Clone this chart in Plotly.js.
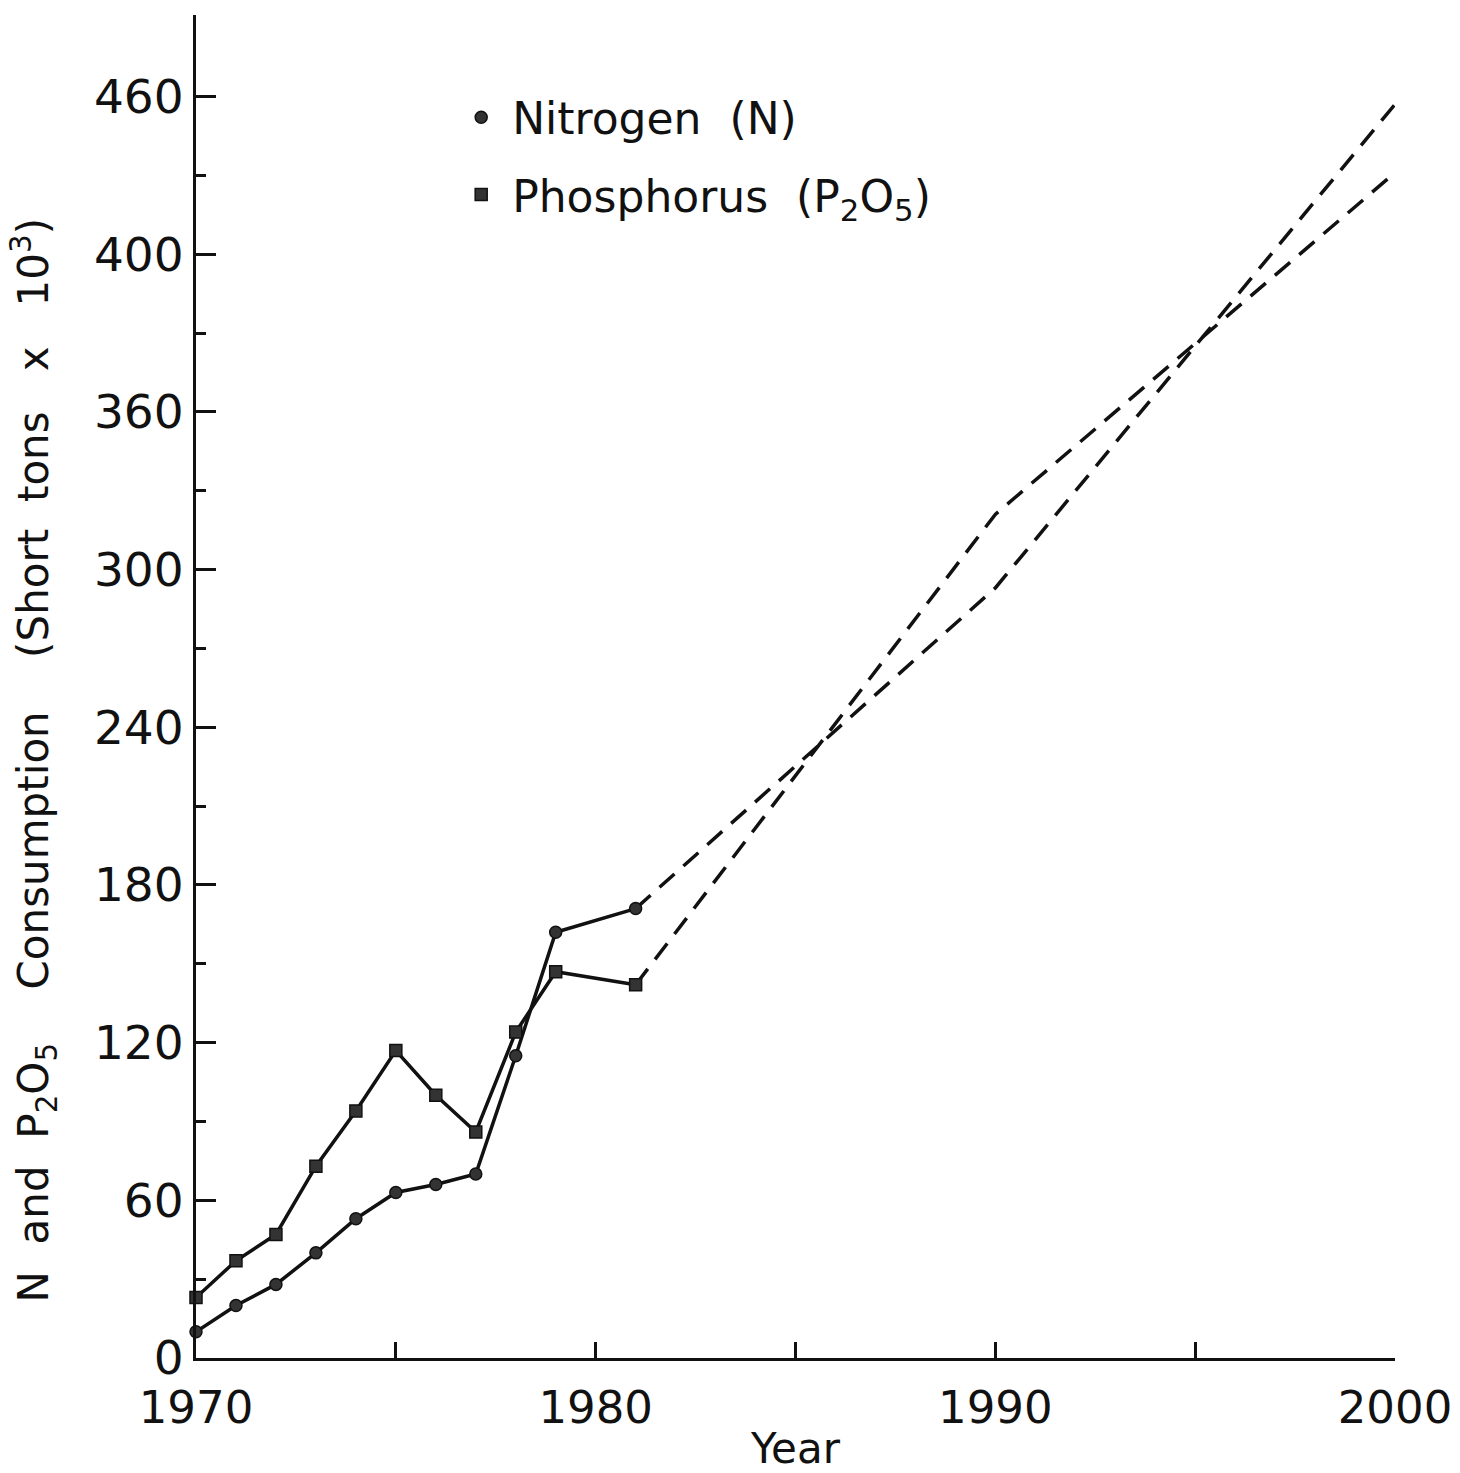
<!DOCTYPE html>
<html>
<head>
<meta charset="utf-8">
<script src="https://cdn.plot.ly/plotly-3.0.1.min.js"></script>
<style>
  html, body { margin: 0; padding: 0; background: #ffffff; }
  #chart { width: 1460px; height: 1473px; }
</style>
</head>
<body>
<div id="chart"></div>
<script>
// ---- Data (y in evenly spaced axis units; labels as printed) ----
const years = [1970, 1971, 1972, 1973, 1974, 1975, 1976, 1977, 1978, 1979, 1981];
const nitrogen = [10, 20, 28, 40, 53, 63, 66, 70, 115, 162, 171];
const phosphorus = [23, 37, 47, 73, 94, 117, 100, 86, 124, 147, 142];

const projYears = [1990, 2000];
const nitrogenProj = [293, 477];
const phosphorusProj = [321, 451];

const yTickVals = [0, 60, 120, 180, 240, 300, 360, 420, 480];
const yTickText = ['0', '60', '120', '180', '240', '300', '360', '400', '460'];
const yMinorVals = [30, 90, 150, 210, 270, 330, 390, 450];
const xTickVals = [1970, 1975, 1980, 1985, 1990, 1995, 2000];
const xTickText = ['1970', '', '1980', '', '1990', '', '2000'];

const seriesNames = ['Nitrogen\u00a0\u00a0(N)', 'Phosphorus\u00a0\u00a0(P<sub>2</sub>O<sub>5</sub>)'];

// ---- Build traces ----
const INK = '#111111';
const FONT = 'DejaVu Sans, Liberation Sans, sans-serif';
const lastYear = years[years.length - 1];

function solidLine(y) {
  return { x: years, y: y, mode: 'lines', type: 'scatter', showlegend: false,
           line: { color: INK, width: 3.5 }, cliponaxis: false, hoverinfo: 'skip' };
}
function dashedLine(y, proj) {
  return { x: [lastYear].concat(projYears), y: [y[y.length - 1]].concat(proj),
           mode: 'lines', type: 'scatter', showlegend: false,
           line: { color: INK, width: 3.5, dash: '20px,12px' }, cliponaxis: false, hoverinfo: 'skip' };
}
function markers(y, name, symbol, group) {
  return { x: years, y: y, mode: 'markers', type: 'scatter', name: name, legendgroup: group,
           marker: { symbol: symbol, size: 12, color: '#333333', line: { color: INK, width: 1.5 } },
           cliponaxis: false };
}

const data = [
  solidLine(nitrogen), solidLine(phosphorus),
  dashedLine(nitrogen, nitrogenProj), dashedLine(phosphorus, phosphorusProj),
  markers(nitrogen, seriesNames[0], 'circle', 'n'),
  markers(phosphorus, seriesNames[1], 'square', 'p')
];

const layout = {
  width: 1460, height: 1473,
  paper_bgcolor: '#ffffff', plot_bgcolor: '#ffffff',
  margin: { l: 196, r: 65, t: 15, b: 115 },
  font: { family: FONT, color: INK, size: 44 },
  showlegend: true,
  legend: {
    x: 0.212, y: 0.95, xanchor: 'left', yanchor: 'top',
    bgcolor: 'rgba(0,0,0,0)', borderwidth: 0,
    font: { family: FONT, size: 44, color: INK },
    itemwidth: 52,
    tracegroupgap: 17, traceorder: 'grouped'
  },
  xaxis: {
    range: [1970, 2000], tickmode: 'array', tickvals: xTickVals, ticktext: xTickText,
    ticks: 'inside', ticklen: 16, tickwidth: 3, tickcolor: INK,
    showline: true, linecolor: INK, linewidth: 3, showgrid: false, zeroline: false,
    ticklabelstandoff: 8,
    tickfont: { family: FONT, size: 45, color: INK },
    title: { text: 'Year', font: { family: FONT, size: 42, color: INK }, standoff: 16 }
  },
  yaxis: {
    range: [0, 511], tickmode: 'array', tickvals: yTickVals, ticktext: yTickText,
    ticks: 'inside', ticklen: 20, tickwidth: 3, tickcolor: INK,
    minor: { tickmode: 'array', tickvals: yMinorVals, ticks: 'inside', ticklen: 10, tickwidth: 3, tickcolor: INK, showgrid: false },
    showline: true, linecolor: INK, linewidth: 3, showgrid: false, zeroline: false,
    tickfont: { family: FONT, size: 47, color: INK },
    title: { text: '' }
  },
  annotations: [{
    xref: 'paper', yref: 'paper', x: -0.135, y: 0.445, xanchor: 'center', yanchor: 'middle',
    textangle: -90, showarrow: false,
    text: 'N\u00a0\u00a0and\u00a0\u00a0P<sub>2</sub>O<sub>5</sub>\u00a0\u00a0\u00a0\u00a0Consumption\u00a0\u00a0\u00a0\u00a0(Short\u00a0\u00a0tons\u00a0\u00a0\u00a0x\u00a0\u00a0\u00a010<sup>3</sup>)',
    font: { family: FONT, size: 42, color: INK }
  }]
};

Plotly.newPlot('chart', data, layout, { staticPlot: true, displayModeBar: false });
</script>
</body>
</html>
